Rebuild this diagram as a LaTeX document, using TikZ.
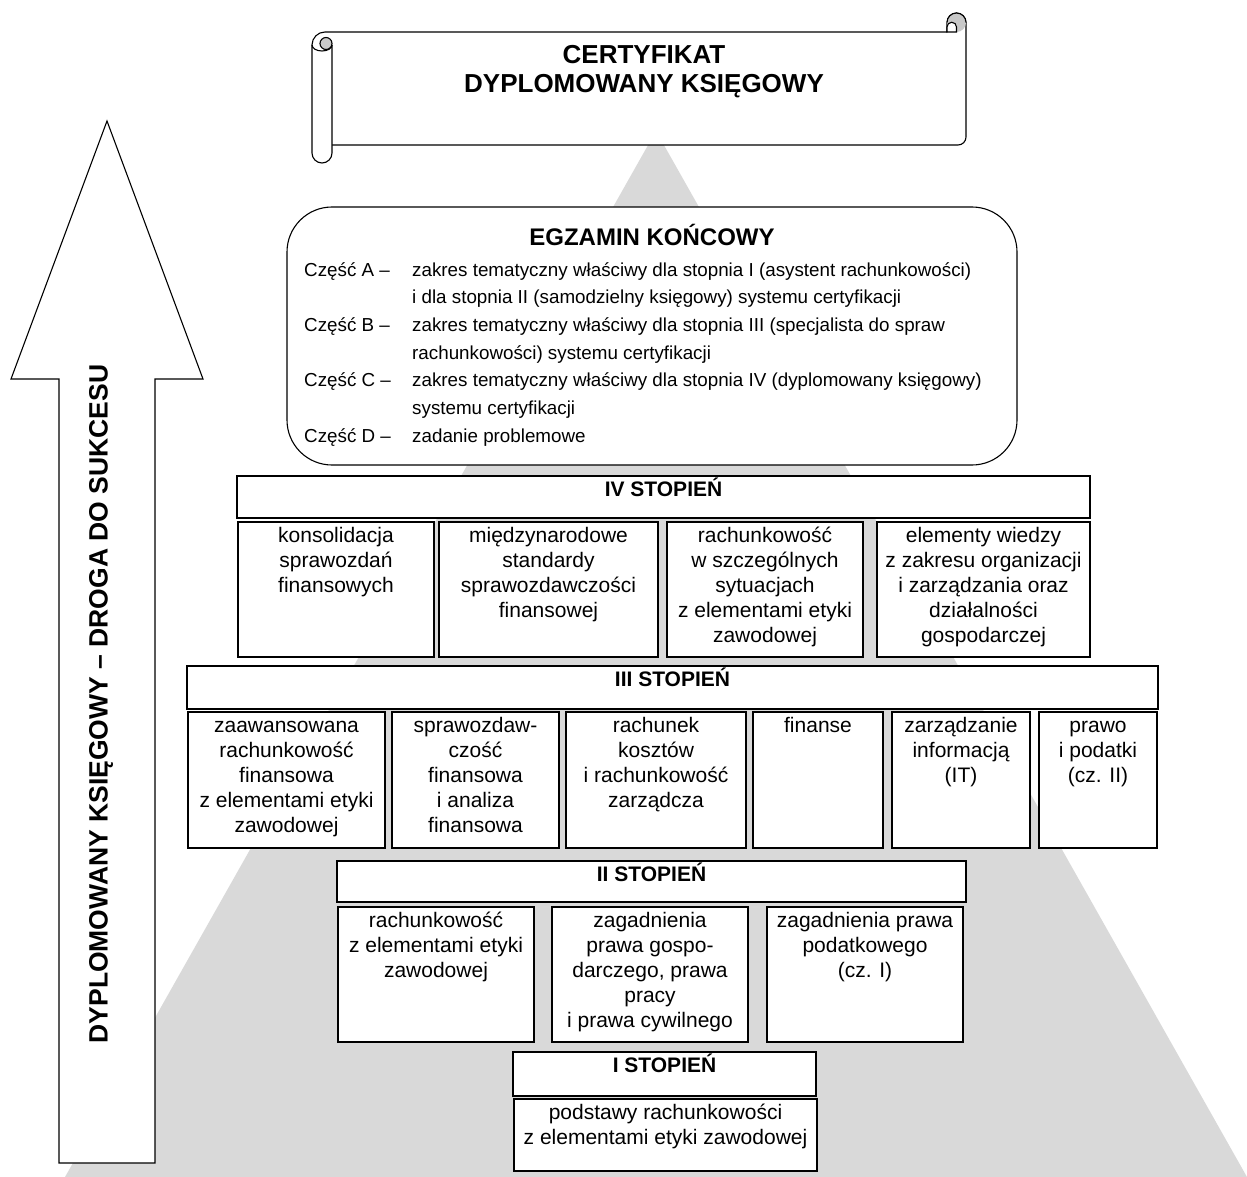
\documentclass[tikz,border=0pt]{standalone}
\usepackage{fontspec}
\setmainfont{Liberation Sans}
\definecolor{pyr}{RGB}{217,217,217}
\definecolor{curl}{RGB}{200,200,200}
\newcommand\lvlbox[6]{%
  \node[box, minimum width={#4-#2}, minimum height={#5-#3}] (#1) at ({(#2+#4)/2},{(#3+#5)/2}) {};
  \node[txt] (#1t) at ([yshift=-1pt]#1.north) {\rule{0pt}{20pt}#6};
}
\newcommand\lvlhdr[6]{%
  \node[box, minimum width={#4-#2}, minimum height={#5-#3}] (#1) at ({(#2+#4)/2},{(#3+#5)/2}) {};
  \node[hdr] (#1t) at ([yshift=-1pt]#1.north) {\rule{0pt}{20pt}#6};
}
\begin{document}
\begin{tikzpicture}[x=1pt,y=-1pt,
  box/.style={draw=black, fill=white, line width=1.1pt, inner sep=0pt},
  txt/.style={anchor=north, inner sep=0pt, align=center, font=\fontsize{21}{25}\selectfont},
  hdr/.style={anchor=north, inner sep=0pt, align=center, font=\bfseries\fontsize{21}{25}\selectfont},
  outl/.style={draw=black, line width=1.1pt},
  exl/.style={anchor=base west, inner sep=0pt, font=\fontsize{18.8}{23}\selectfont}]
\useasboundingbox (0,0) rectangle (1247,1177);
% background pyramid
\fill[pyr] (656,131) -- (1247,1177) -- (65,1177) -- cycle;
% scroll
\fill[white] (322,32) -- (966,32) -- (966,145) -- (322,145) -- cycle;
\draw[outl, line join=round] (312,45) arc[start angle=180, end angle=270, radius=13] -- (947,32) -- (947,22.5)
  arc[start angle=180, end angle=360, radius=9.5] -- (966,137)
  arc[start angle=0, end angle=90, radius=8] -- (332,145);
\fill[curl] (956.5,22.5) circle[radius=9.5];
\draw[outl] (947,22.5) arc[start angle=180, end angle=360, radius=9.5];
\draw[outl, fill=white] (947,32) -- (947,27) arc[start angle=180, end angle=360, radius=4.75] -- (956.5,32) -- cycle;
\draw[outl, fill=white] (312,45) -- (312,153) arc[start angle=180, end angle=0, radius=10] -- (332,45);
\draw[outl, fill=curl] (326,43.5) circle[radius=6];
\draw[outl] (312,45) arc[start angle=180, end angle=0, x radius=10, y radius=6];
\node[anchor=north, inner sep=0pt, align=center, font=\bfseries\fontsize{26}{29}\selectfont] (cert) at (644,43)
  {\rule{0pt}{20pt}CERTYFIKAT\\DYPLOMOWANY KSIĘGOWY};
% final exam
\node[draw=black, line width=1.1pt, fill=white, rounded corners=45pt, minimum width=730, minimum height=258, inner sep=0pt] (egz) at (652,336) {};
\node[anchor=base, inner sep=0pt, font=\bfseries\fontsize{24}{28}\selectfont] (egzt) at (652,245) {EGZAMIN KOŃCOWY};
\node[exl] (la) at (304,276) {Część A –};
\node[exl] (ta1) at (412,276) {zakres tematyczny właściwy dla stopnia I (asystent rachunkowości)};
\node[exl] (ta2) at (412,303.7) {i dla stopnia II (samodzielny księgowy) systemu certyfikacji};
\node[exl] (lb) at (304,331.4) {Część B –};
\node[exl] (tb1) at (412,331.4) {zakres tematyczny właściwy dla stopnia III (specjalista do spraw};
\node[exl] (tb2) at (412,359.1) {rachunkowości) systemu certyfikacji};
\node[exl] (lc) at (304,386.8) {Część C –};
\node[exl] (tc1) at (412,386.8) {zakres tematyczny właściwy dla stopnia IV (dyplomowany księgowy)};
\node[exl] (tc2) at (412,414.5) {systemu certyfikacji};
\node[exl] (ld) at (304,442.2) {Część D –};
\node[exl] (td1) at (412,442.2) {zadanie problemowe};
% level IV
\lvlhdr{h4}{237}{476}{1090}{518}{IV STOPIEŃ}
\lvlbox{b41}{238}{522}{434}{657}{konsolidacja\\sprawozdań\\finansowych}
\lvlbox{b42}{439}{522}{658}{657}{międzynarodowe\\standardy\\sprawozdawczości\\finansowej}
\lvlbox{b43}{667}{522}{863}{657}{rachunkowość\\w szczególnych\\sytuacjach\\z elementami etyki\\zawodowej}
\lvlbox{b44}{877}{522}{1090}{657}{elementy wiedzy\\z zakresu organizacji\\i zarządzania oraz\\działalności\\gospodarczej}
% level III
\lvlhdr{h3}{187}{666}{1158}{709}{III STOPIEŃ}
\lvlbox{b31}{188}{712}{385}{848}{zaawansowana\\rachunkowość\\finansowa\\z elementami etyki\\zawodowej}
\lvlbox{b32}{392}{712}{559}{848}{sprawozdaw-\\czość\\finansowa\\i analiza\\finansowa}
\lvlbox{b33}{566}{712}{746}{848}{rachunek\\kosztów\\i rachunkowość\\zarządcza}
\lvlbox{b34}{753}{712}{883}{848}{finanse}
\lvlbox{b35}{892}{712}{1030}{848}{zarządzanie\\informacją\\(IT)}
\lvlbox{b36}{1039}{712}{1157}{848}{prawo\\i podatki\\(cz. II)}
% level II
\lvlhdr{h2}{337}{861}{966}{902}{II STOPIEŃ}
\lvlbox{b21}{338}{907}{534}{1042}{rachunkowość\\z elementami etyki\\zawodowej}
\lvlbox{b22}{552}{907}{748}{1042}{zagadnienia\\prawa gospo-\\darczego, prawa\\pracy\\i prawa cywilnego}
\lvlbox{b23}{767}{907}{963}{1042}{zagadnienia prawa\\podatkowego\\(cz. I)}
% level I
\lvlhdr{h1}{513}{1052}{816}{1096}{I STOPIEŃ}
\lvlbox{b11}{514}{1099}{817}{1171}{podstawy rachunkowości\\z elementami etyki zawodowej}
% arrow
\draw[outl, fill=white, line join=miter] (107,121) -- (203,379) -- (155,379) -- (155,1163) -- (59,1163) -- (59,379) -- (11,379) -- cycle;
\node[rotate=90, inner sep=0pt, font=\bfseries\fontsize{26.5}{30}\selectfont] (arrt) at (101,704) {DYPLOMOWANY KSIĘGOWY – DROGA DO SUKCESU};
\end{tikzpicture}
\end{document}
